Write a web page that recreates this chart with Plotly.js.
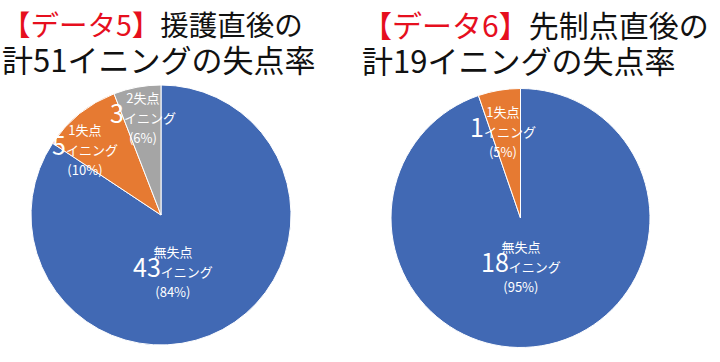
<!DOCTYPE html>
<html>
<head>
<meta charset="utf-8">
<script src="https://cdn.plot.ly/plotly-3.0.1.min.js"></script>
<style>html,body{margin:0;padding:0;background:#fff;}#chart{width:720px;height:362px;}</style>
</head>
<body>
<div id="chart"></div>
<script>
// ---- data ----
const labels5 = ['無失点', '1失点', '2失点'];
const innings5 = [43, 5, 3];
const labels6 = ['無失点', '1失点'];
const innings6 = [18, 1];
const titleTag5 = '【データ5】';
const titleMain5 = '援護直後の';
const titleSub5 = '計51イニングの失点率';
const titleTag6 = '【データ6】';
const titleMain6 = '先制点直後の';
const titleSub6 = '計19イニングの失点率';
const unit = 'イニング';

// ---- styles ----
const colors = ['#4169B4', '#E67A32', '#A5A5A5'];
const W = 720, H = 362;
const px = x => x / W;
const py = y => 1 - y / H;
const FONT = '"Noto Sans CJK JP", "Noto Sans", sans-serif';

function pieTrace(labels, values, dom) {
  return {
    type: 'pie', labels: labels, values: values, sort: false,
    direction: 'clockwise', rotation: 0, textinfo: 'none', hoverinfo: 'none',
    marker: {colors: colors.slice(0, values.length), line: {color: '#ffffff', width: 1}},
    domain: dom, showlegend: false
  };
}

const traces = [
  pieTrace(labels5, innings5, {x: [px(31), px(291)], y: [py(345), py(85)]}),
  pieTrace(labels6, innings6, {x: [px(391), px(650)], y: [py(348), py(88)]})
];

const annotations = [];
function sliceLabels(labels, values, positions) {
  const total = values.reduce((a, b) => a + b, 0);
  labels.forEach((lab, i) => {
    const p = positions[i];
    const pct = Math.round(values[i] / total * 100);
    const text = '<span style="font-size:13px">' + lab + '</span><br>' +
      '<span style="font-size:25px">' + values[i] + '</span><span style="font-size:13px">' + unit + '</span><br>' +
      '<span style="font-size:13px">(' + pct + '%)</span>';
    annotations.push({xref: 'paper', yref: 'paper', x: px(p[0]), y: py(p[1]), xanchor: 'center', yanchor: 'middle',
      text: text, showarrow: false, align: 'center', font: {family: FONT, size: 15.5, color: '#ffffff'}});
  });
}
sliceLabels(labels5, innings5, [[173, 271], [85, 150], [143, 118]]);
sliceLabels(labels6, innings6, [[521, 266], [503, 131]]);

function addTitle(tag, main, sub, x, size1) {
  annotations.push({xref: 'paper', yref: 'paper', x: px(x), y: py(42), xanchor: 'left', yanchor: 'middle', showarrow: false,
    align: 'left',
    text: '<span style="font-size:' + size1 + 'px"><span style="color:#E60F1E">' + tag + '</span>' + main + '</span><br>' +
      '<span style="font-size:31px">' + sub + '</span>',
    font: {family: FONT, size: 27.7, color: '#111111'}});
}
addTitle(titleTag5, titleMain5, titleSub5, 0, 28.5);
addTitle(titleTag6, titleMain6, titleSub6, 360, 30);

Plotly.newPlot('chart', traces, {
  width: W, height: H, margin: {l: 0, r: 0, t: 0, b: 0},
  paper_bgcolor: '#ffffff', plot_bgcolor: '#ffffff',
  annotations: annotations, font: {family: FONT}
}, {staticPlot: true, displayModeBar: false});
</script>
</body>
</html>
